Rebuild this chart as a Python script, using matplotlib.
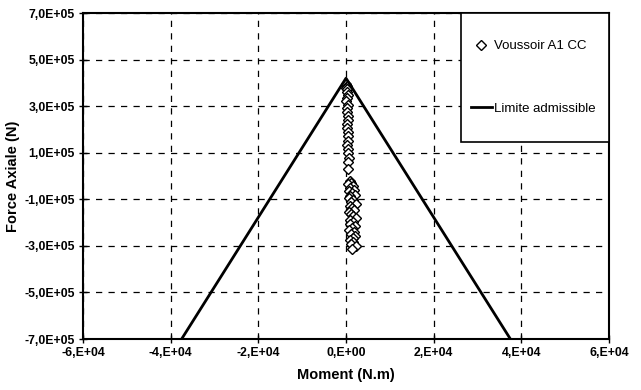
import matplotlib
matplotlib.use("Agg")
import matplotlib.pyplot as plt
from matplotlib.patches import Rectangle
from matplotlib.lines import Line2D

plt.rcParams['font.family'] = ['Liberation Sans', 'DejaVu Sans']

# ---------------- data ----------------
# admissible limit (N-M interaction), three vertices
limit_m = [-3.75e4, 0.0, 3.75e4]
limit_n = [-7.0e5, 4.2e5, -7.0e5]

# Voussoir A1 CC points : moment (N.m), axial force (N)
vous_m = [100, 250, 0, 300, 150, 350, 200, 100, 400, 250, 150, 350, 450, 250,
          300, 500, 350, 450, 300, 550, 400, 600, 500, 350,
          800, 1200, 500, 1500, 900, 1800, 700, 1300, 2000, 1000, 600, 1600,
          1100, 2200, 800, 1400, 1900, 700, 1200, 1700, 2300, 900, 1500, 1000,
          2000, 1300, 600, 1800, 1100, 2100, 1500, 900, 1700, 1200, 2200, 1400]
vous_n = [3.95e5, 3.88e5, 3.80e5, 3.72e5, 3.62e5, 3.50e5, 3.36e5, 3.22e5,
          3.06e5, 2.90e5, 2.74e5, 2.57e5, 2.40e5, 2.23e5, 2.06e5, 1.88e5,
          1.70e5, 1.52e5, 1.34e5, 1.16e5, 0.97e5, 0.78e5, 0.58e5, 0.30e5,
          -0.20e5, -0.28e5, -0.35e5, -0.42e5, -0.50e5, -0.58e5, -0.65e5,
          -0.73e5, -0.80e5, -0.88e5, -0.96e5, -1.04e5, -1.12e5, -1.20e5,
          -1.28e5, -1.36e5, -1.45e5, -1.53e5, -1.62e5, -1.70e5, -1.79e5,
          -1.88e5, -1.96e5, -2.05e5, -2.14e5, -2.23e5, -2.32e5, -2.40e5,
          -2.49e5, -2.58e5, -2.66e5, -2.75e5, -2.84e5, -2.92e5, -3.02e5,
          -3.15e5]

xticks = [-6e4, -4e4, -2e4, 0, 2e4, 4e4, 6e4]
xtick_labels = ['-6,E+04', '-4,E+04', '-2,E+04', '0,E+00', '2,E+04', '4,E+04', '6,E+04']
yticks = [-7e5, -5e5, -3e5, -1e5, 1e5, 3e5, 5e5, 7e5]
ytick_labels = ['-7,0E+05', '-5,0E+05', '-3,0E+05', '-1,0E+05',
                '1,0E+05', '3,0E+05', '5,0E+05', '7,0E+05']

# ---------------- figure ----------------
fig = plt.figure(figsize=(6.41, 3.90), dpi=100)
ax = fig.add_axes([83 / 641, 1 - 339 / 390, 526 / 641, 326 / 390])

ax.plot(vous_m, vous_n, linestyle='none', marker='D', markersize=4.6,
        markerfacecolor='white', markeredgecolor='black', markeredgewidth=1.0,
        zorder=3, label='Voussoir A1 CC')
ax.plot(limit_m, limit_n, color='black', linewidth=2.0, zorder=4,
        label='Limite admissible')

ax.set_xlim(-6e4, 6e4)
ax.set_ylim(-7e5, 7e5)
ax.set_xticks(xticks)
ax.set_xticklabels(xtick_labels)
ax.set_yticks(yticks)
ax.set_yticklabels(ytick_labels)
ax.tick_params(direction='inout', length=6, width=1, colors='black',
               labelsize=8.8, pad=3)
for lab in ax.get_xticklabels() + ax.get_yticklabels():
    lab.set_fontweight('bold')

ax.grid(True, color='black', linestyle=(0, (5, 5)), linewidth=0.9)
ax.set_axisbelow(True)
for sp in ax.spines.values():
    sp.set_linewidth(1.5)
    sp.set_color('black')

ax.set_xlabel('Moment (N.m)', fontsize=10.5, fontweight='bold', labelpad=6)
ax.set_ylabel('Force Axiale (N)', fontsize=10.5, fontweight='bold', labelpad=3)

# legend box (opaque, Excel style)
box_x0 = (461 - 83) / 526
box_y0 = (339 - 142) / 326
box = Rectangle((box_x0, box_y0), 1 - box_x0, 1 - box_y0, transform=ax.transAxes,
                facecolor='white', edgecolor='black', linewidth=1.2,
                zorder=5, clip_on=False)
ax.add_patch(box)

handles = [Line2D([], [], linestyle='none', marker='D', markersize=4.6,
                  markerfacecolor='white', markeredgecolor='black',
                  markeredgewidth=1.0),
           Line2D([], [], color='black', linewidth=2.0)]
leg = ax.legend(handles, ['Voussoir A1 CC', 'Limite admissible'],
                loc='center left',
                bbox_to_anchor=((464 - 83) / 526, (1 + box_y0) / 2),
                frameon=False, fontsize=9.5, labelspacing=3.8, handlelength=1.6,
                handletextpad=0.15, borderpad=0)
leg.set_zorder(6)

fig.savefig('out.png', dpi=100)
